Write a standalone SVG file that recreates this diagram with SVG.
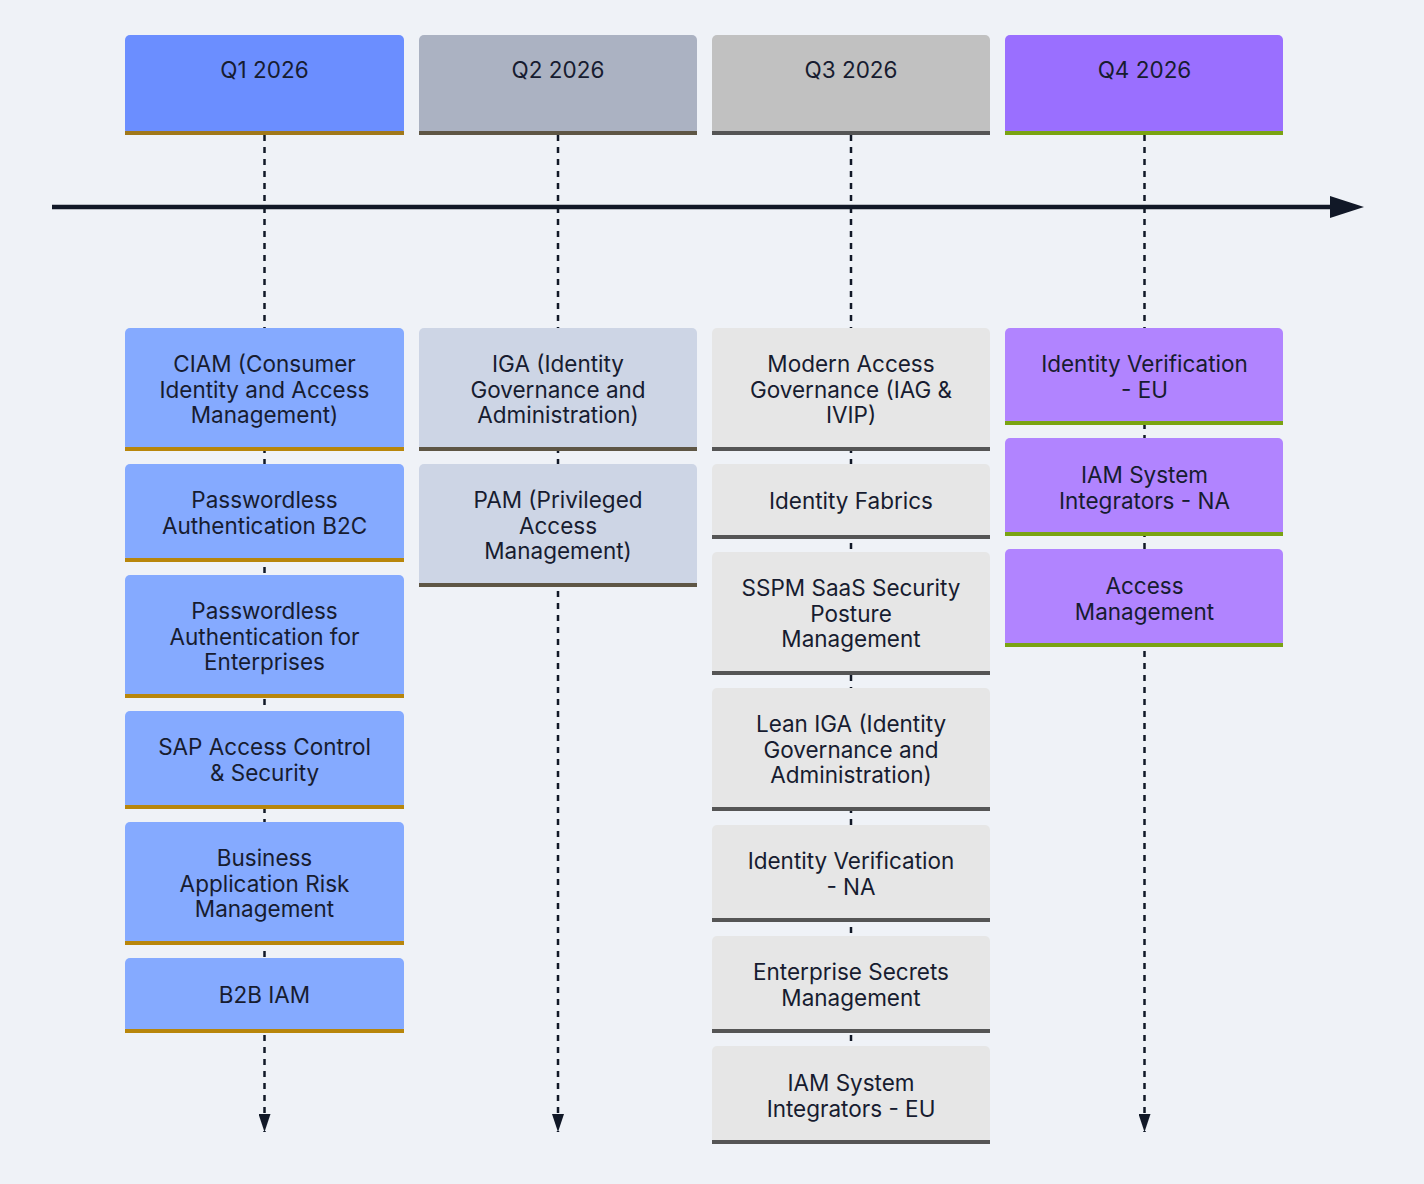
<svg xmlns="http://www.w3.org/2000/svg" width="1424" height="1184" viewBox="0 0 1424 1184">
<defs>
<marker id="tl" markerWidth="34" markerHeight="24" refX="0" refY="12" orient="auto" markerUnits="userSpaceOnUse"><path d="M0,1 L34,12 L0,23 Z" fill="#111827"/></marker>
<marker id="dn" markerWidth="12" markerHeight="20" refX="6" refY="18" orient="0" markerUnits="userSpaceOnUse"><path d="M0,0 L12,0 L6,18 Z" fill="#111827"/></marker>
<style>
text{font-family:Inter,"Liberation Sans",sans-serif;font-size:22.5px;fill:#171c30;text-anchor:middle}
.dash{stroke:#111827;stroke-width:2.5;stroke-dasharray:6 6;fill:none}
.q1h{fill:#6b8eff}.q1i{fill:#85aaff}.q1b{fill:#a0781a}.q1bi{fill:#b8860b}
.q2h{fill:#abb2c2}.q2i{fill:#cdd5e5}.q2b{fill:#5e5645}
.q3h{fill:#c1c1c1}.q3i{fill:#e6e6e6}.q3b{fill:#555555}
.q4h{fill:#9a6fff}.q4i{fill:#b184ff}.q4b{fill:#7aa312}
</style>
</defs>
<rect width="1424" height="1184" fill="#eff2f7"/>
<g id="connectors">
<line x1="52" y1="207" x2="1330" y2="207" stroke="#111827" stroke-width="4.5" marker-end="url(#tl)"/>
<line class="dash" x1="264.5" y1="135" x2="264.5" y2="1132" marker-end="url(#dn)"/>
<line class="dash" x1="558" y1="135" x2="558" y2="1132" marker-end="url(#dn)"/>
<line class="dash" x1="851" y1="135" x2="851" y2="1132" marker-end="url(#dn)"/>
<line class="dash" x1="1144.5" y1="135" x2="1144.5" y2="1132" marker-end="url(#dn)"/>
</g>
<g id="q1-header"><rect class="q1h" x="125" y="35" width="279" height="100" rx="5"/><rect class="q1b" x="125" y="131" width="279" height="4"/><text x="264.5" y="78">Q1 2026</text></g>
<g id="q2-header"><rect class="q2h" x="419" y="35" width="278" height="100" rx="5"/><rect class="q2b" x="419" y="131" width="278" height="4"/><text x="558" y="78">Q2 2026</text></g>
<g id="q3-header"><rect class="q3h" x="712" y="35" width="278" height="100" rx="5"/><rect class="q3b" x="712" y="131" width="278" height="4"/><text x="851" y="78">Q3 2026</text></g>
<g id="q4-header"><rect class="q4h" x="1005" y="35" width="278" height="100" rx="5"/><rect class="q4b" x="1005" y="131" width="278" height="4"/><text x="1144.5" y="78">Q4 2026</text></g>

<g id="q1-ciam"><rect class="q1i" x="125" y="328" width="279" height="123" rx="5"/><rect class="q1bi" x="125" y="447" width="279" height="4"/><text x="264.5" y="372">CIAM (Consumer</text><text x="264.5" y="398">Identity and Access</text><text x="264.5" y="423">Management)</text></g>
<g id="q1-pwb2c"><rect class="q1i" x="125" y="464" width="279" height="98" rx="5"/><rect class="q1bi" x="125" y="558" width="279" height="4"/><text x="264.5" y="508">Passwordless</text><text x="264.5" y="534">Authentication B2C</text></g>
<g id="q1-pwent"><rect class="q1i" x="125" y="575" width="279" height="123" rx="5"/><rect class="q1bi" x="125" y="694" width="279" height="4"/><text x="264.5" y="619">Passwordless</text><text x="264.5" y="645">Authentication for</text><text x="264.5" y="670">Enterprises</text></g>
<g id="q1-sap"><rect class="q1i" x="125" y="711" width="279" height="98" rx="5"/><rect class="q1bi" x="125" y="805" width="279" height="4"/><text x="264.5" y="755">SAP Access Control</text><text x="264.5" y="781">&amp; Security</text></g>
<g id="q1-barm"><rect class="q1i" x="125" y="822" width="279" height="123" rx="5"/><rect class="q1bi" x="125" y="941" width="279" height="4"/><text x="264.5" y="866">Business</text><text x="264.5" y="892">Application Risk</text><text x="264.5" y="917">Management</text></g>
<g id="q1-b2b"><rect class="q1i" x="125" y="958" width="279" height="75" rx="5"/><rect class="q1bi" x="125" y="1029" width="279" height="4"/><text x="264.5" y="1003">B2B IAM</text></g>

<g id="q2-iga"><rect class="q2i" x="419" y="328" width="278" height="123" rx="5"/><rect class="q2b" x="419" y="447" width="278" height="4"/><text x="558" y="372">IGA (Identity</text><text x="558" y="398">Governance and</text><text x="558" y="423">Administration)</text></g>
<g id="q2-pam"><rect class="q2i" x="419" y="464" width="278" height="123" rx="5"/><rect class="q2b" x="419" y="583" width="278" height="4"/><text x="558" y="508">PAM (Privileged</text><text x="558" y="534">Access</text><text x="558" y="559">Management)</text></g>

<g id="q3-mag"><rect class="q3i" x="712" y="328" width="278" height="123" rx="5"/><rect class="q3b" x="712" y="447" width="278" height="4"/><text x="851" y="372">Modern Access</text><text x="851" y="398">Governance (IAG &amp;</text><text x="851" y="423">IVIP)</text></g>
<g id="q3-fabrics"><rect class="q3i" x="712" y="464" width="278" height="75" rx="5"/><rect class="q3b" x="712" y="535" width="278" height="4"/><text x="851" y="509">Identity Fabrics</text></g>
<g id="q3-sspm"><rect class="q3i" x="712" y="552" width="278" height="123" rx="5"/><rect class="q3b" x="712" y="671" width="278" height="4"/><text x="851" y="596">SSPM SaaS Security</text><text x="851" y="622">Posture</text><text x="851" y="647">Management</text></g>
<g id="q3-leaniga"><rect class="q3i" x="712" y="688" width="278" height="123" rx="5"/><rect class="q3b" x="712" y="807" width="278" height="4"/><text x="851" y="732">Lean IGA (Identity</text><text x="851" y="758">Governance and</text><text x="851" y="783">Administration)</text></g>
<g id="q3-idvna"><rect class="q3i" x="712" y="825" width="278" height="97" rx="5"/><rect class="q3b" x="712" y="918" width="278" height="4"/><text x="851" y="869">Identity Verification</text><text x="851" y="895">- NA</text></g>
<g id="q3-secrets"><rect class="q3i" x="712" y="936" width="278" height="97" rx="5"/><rect class="q3b" x="712" y="1029" width="278" height="4"/><text x="851" y="980">Enterprise Secrets</text><text x="851" y="1006">Management</text></g>
<g id="q3-sieu"><rect class="q3i" x="712" y="1046" width="278" height="98" rx="5"/><rect class="q3b" x="712" y="1140" width="278" height="4"/><text x="851" y="1091">IAM System</text><text x="851" y="1117">Integrators - EU</text></g>

<g id="q4-idveu"><rect class="q4i" x="1005" y="328" width="278" height="97" rx="5"/><rect class="q4b" x="1005" y="421" width="278" height="4"/><text x="1144.5" y="372">Identity Verification</text><text x="1144.5" y="398">- EU</text></g>
<g id="q4-sina"><rect class="q4i" x="1005" y="438" width="278" height="98" rx="5"/><rect class="q4b" x="1005" y="532" width="278" height="4"/><text x="1144.5" y="483">IAM System</text><text x="1144.5" y="509">Integrators - NA</text></g>
<g id="q4-am"><rect class="q4i" x="1005" y="549" width="278" height="98" rx="5"/><rect class="q4b" x="1005" y="643" width="278" height="4"/><text x="1144.5" y="594">Access</text><text x="1144.5" y="620">Management</text></g>
</svg>
